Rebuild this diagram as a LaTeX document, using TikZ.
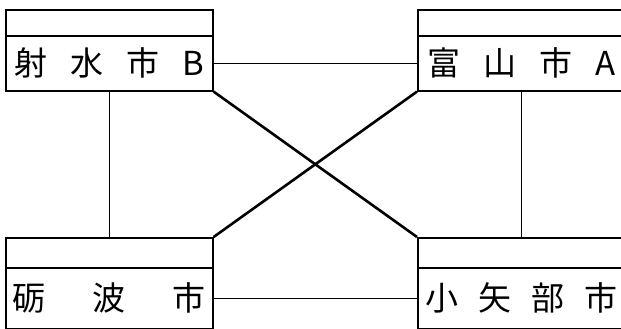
\documentclass[tikz,border=0pt]{standalone}
\usepackage{fontspec}
\newfontfamily\jpfont{Noto Sans CJK JP}
\newcommand{\cgap}[1]{\hspace{#1pt}}

\begin{document}
\begin{tikzpicture}[x=1pt,y=-1pt,
  box/.style={draw, line width=1.6pt, rectangle, inner sep=0pt, minimum width=207pt, anchor=north west},
  head/.style={box, minimum height=#1pt},
  body/.style={box, minimum height=#1pt, font=\jpfont\fontsize{33}{33}\selectfont},
  link/.style={line width=1.3pt},
  cross/.style={line width=2.6pt}]
\useasboundingbox (0,0) rectangle (621,329);
\clip (0,0) rectangle (621,329);
\fill[white] (0,0) rectangle (621,329);
% upper row
\node[head=26] (imizuH) at (5,9) {};
\node[body=55] (imizu) at (5,35) {射\cgap{23}水\cgap{23}市\cgap{23}B};
\node[head=26] (toyamaH) at (417,9) {};
\node[body=55] (toyama) at (417,35) {富\cgap{23}山\cgap{23}市\cgap{23}A};
% lower row
\node[head=30] (tonamiH) at (5,237) {};
\node[body=61] (tonami) at (5,267) {砺\cgap{47}波\cgap{47}市};
\node[head=30] (oyabeH) at (417,237) {};
\node[body=61] (oyabe) at (417,267) {小\cgap{20}矢\cgap{20}部\cgap{20}市};
% connectors
\draw[link] (imizu.east) -- (toyama.west);
\draw[link] (tonami.east) -- (oyabe.west);
\draw[link] (imizu.south) -- (tonamiH.north);
\draw[link] (toyama.south) -- (oyabeH.north);
\draw[cross] (imizu.south east) -- (oyabeH.north west);
\draw[cross] (toyama.south west) -- (tonamiH.north east);
\end{tikzpicture}
\end{document}
